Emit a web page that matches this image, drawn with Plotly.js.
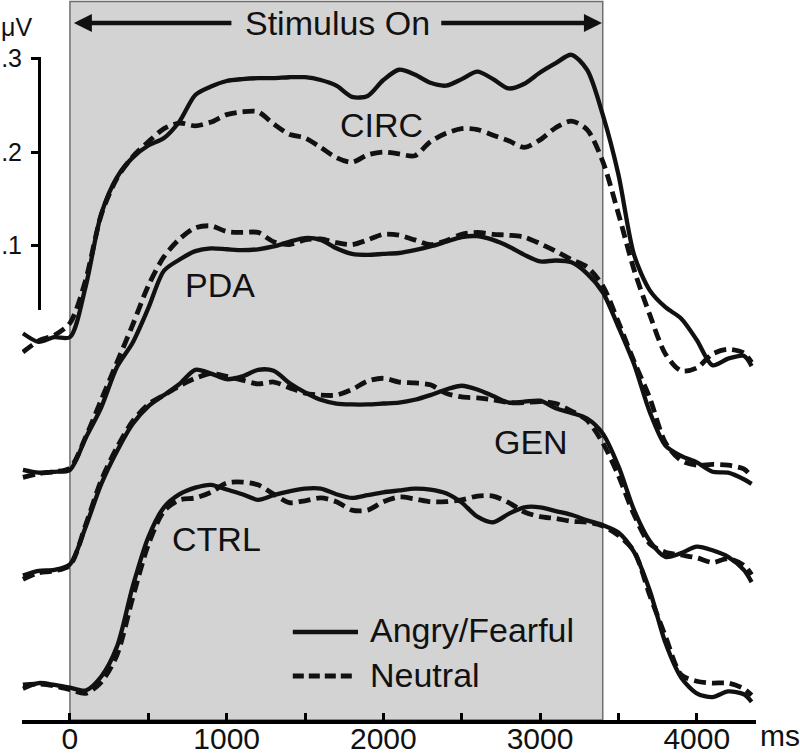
<!DOCTYPE html>
<html>
<head>
<meta charset="utf-8">
<script src="https://cdn.plot.ly/plotly-3.0.1.min.js"></script>
<style>
  html, body { margin: 0; padding: 0; background: #fff; }
</style>
</head>
<body>
<div id="chart" style="width:800px;height:754px"></div>
<script>
// time axis (ms), shared by all traces
const timeMs = [-300, -200, -100, 0, 100, 200, 300, 400, 500, 600, 700, 800, 900,
  1000, 1100, 1200, 1300, 1400, 1500, 1600, 1700, 1800, 1900, 2000, 2100, 2200,
  2300, 2400, 2500, 2600, 2700, 2800, 2900, 3000, 3100, 3200, 3300, 3400, 3500,
  3600, 3700, 3800, 3900, 4000, 4100, 4200, 4300, 4350];

// amplitude (uV) relative to each group's baseline
const circAngry = [0.006, -0.003, 0.002, 0.002, 0.056, 0.134, 0.173, 0.194, 0.207, 0.215,
  0.233, 0.261, 0.270, 0.276, 0.278, 0.279, 0.279, 0.280, 0.280, 0.277, 0.271, 0.259,
  0.260, 0.277, 0.288, 0.283, 0.274, 0.271, 0.278, 0.286, 0.278, 0.268, 0.273, 0.285,
  0.295, 0.304, 0.288, 0.240, 0.176, 0.090, 0.052, 0.034, 0.022, -0.001, -0.028,
  -0.021, -0.018, -0.029];
const circNeutral = [-0.014, -0.002, 0.004, 0.017, 0.063, 0.133, 0.172, 0.195, 0.211,
  0.225, 0.231, 0.228, 0.232, 0.240, 0.243, 0.243, 0.230, 0.219, 0.215, 0.205, 0.194,
  0.189, 0.197, 0.200, 0.198, 0.196, 0.211, 0.220, 0.225, 0.224, 0.218, 0.212, 0.205,
  0.213, 0.226, 0.233, 0.224, 0.190, 0.134, 0.074, 0.026, -0.016, -0.034, -0.031,
  -0.016, -0.011, -0.015, -0.025];

const pdaAngry = [0.000, -0.003, -0.002, 0.000, 0.034, 0.067, 0.110, 0.136, 0.173, 0.213,
  0.225, 0.234, 0.237, 0.236, 0.235, 0.236, 0.239, 0.244, 0.248, 0.246, 0.237, 0.231,
  0.230, 0.231, 0.232, 0.235, 0.239, 0.244, 0.249, 0.250, 0.246, 0.239, 0.230, 0.223,
  0.224, 0.222, 0.210, 0.190, 0.153, 0.113, 0.062, 0.026, 0.015, 0.008, -0.002,
  -0.003, -0.010, -0.015];
const pdaNeutral = [-0.008, -0.004, -0.002, 0.002, 0.035, 0.075, 0.115, 0.155, 0.197,
  0.228, 0.247, 0.259, 0.261, 0.255, 0.254, 0.254, 0.244, 0.241, 0.246, 0.247, 0.243,
  0.241, 0.246, 0.252, 0.251, 0.246, 0.241, 0.245, 0.252, 0.254, 0.252, 0.251, 0.249,
  0.242, 0.234, 0.225, 0.217, 0.197, 0.158, 0.116, 0.077, 0.029, 0.010, 0.005, 0.006,
  0.005, 0.001, -0.007];

const genAngry = [-0.013, -0.008, -0.007, -0.001, 0.039, 0.085, 0.120, 0.149, 0.168,
  0.180, 0.192, 0.207, 0.203, 0.197, 0.200, 0.207, 0.206, 0.193, 0.183, 0.175, 0.171,
  0.170, 0.170, 0.171, 0.172, 0.175, 0.180, 0.186, 0.190, 0.186, 0.179, 0.172, 0.173,
  0.174, 0.166, 0.161, 0.155, 0.139, 0.104, 0.057, 0.024, 0.007, 0.011, 0.018, 0.014,
  0.007, -0.007, -0.020];
const genNeutral = [-0.017, -0.010, -0.008, -0.002, 0.041, 0.089, 0.124, 0.152, 0.170,
  0.180, 0.190, 0.198, 0.203, 0.200, 0.196, 0.192, 0.194, 0.188, 0.182, 0.180, 0.180,
  0.186, 0.195, 0.198, 0.194, 0.193, 0.191, 0.182, 0.178, 0.177, 0.175, 0.172, 0.172,
  0.173, 0.171, 0.163, 0.153, 0.129, 0.094, 0.052, 0.021, 0.012, 0.009, 0.006, 0.001,
  0.005, -0.002, -0.012];

const ctrlAngry = [-0.004, 0.002, 0.000, -0.003, -0.006, 0.009, 0.041, 0.105, 0.158,
  0.190, 0.204, 0.211, 0.214, 0.209, 0.204, 0.198, 0.203, 0.207, 0.210, 0.210, 0.204,
  0.200, 0.203, 0.206, 0.208, 0.210, 0.209, 0.205, 0.195, 0.180, 0.174, 0.183, 0.190,
  0.190, 0.186, 0.182, 0.176, 0.171, 0.163, 0.142, 0.101, 0.045, 0.008, -0.009, -0.013,
  -0.007, -0.010, -0.018];
const ctrlNeutral = [0.000, 0.001, -0.001, -0.005, -0.009, 0.003, 0.032, 0.093, 0.150,
  0.186, 0.198, 0.200, 0.206, 0.216, 0.217, 0.214, 0.204, 0.195, 0.197, 0.200, 0.196,
  0.187, 0.187, 0.196, 0.201, 0.199, 0.196, 0.196, 0.198, 0.202, 0.202, 0.195, 0.185,
  0.180, 0.178, 0.175, 0.174, 0.170, 0.160, 0.143, 0.096, 0.052, 0.011, 0.004, 0.002,
  0.002, -0.004, -0.011];

// groups stacked top to bottom, each shifted by its offset (uV)
const groupNames = ['CIRC', 'PDA', 'GEN', 'CTRL'];
const groupOffsets = [0, -0.14, -0.24, -0.37];
const groupAngry = [circAngry, pdaAngry, genAngry, ctrlAngry];
const groupNeutral = [circNeutral, pdaNeutral, genNeutral, ctrlNeutral];

const stimulusEnd = 3400;
const xTicks = [0, 500, 1000, 1500, 2000, 2500, 3000, 3500, 4000];
const xTickText = ['0', '', '1000', '', '2000', '', '3000', '', '4000'];
const scaleTicks = [0.1, 0.2, 0.3];
const scaleTickText = ['.1', '.2', '.3'];

const FONT = 'Liberation Sans, Arial, Helvetica, sans-serif';
const INK = '#111111';

const traces = [];
groupNames.forEach((name, i) => {
  const shift = v => v + groupOffsets[i];
  traces.push({
    type: 'scatter', mode: 'lines', name: name + ' Neutral',
    x: timeMs, y: groupNeutral[i].map(shift),
    line: { color: INK, width: 4.8, dash: '12px,6px', shape: 'spline', smoothing: 0.8 },
    showlegend: false, hoverinfo: 'skip'
  });
  traces.push({
    type: 'scatter', mode: 'lines', name: name + ' Angry/Fearful',
    x: timeMs, y: groupAngry[i].map(shift),
    line: { color: INK, width: 4.3, shape: 'spline', smoothing: 0.8 },
    showlegend: false, hoverinfo: 'skip'
  });
});

// empty trace so the scale-bar axis gets drawn
traces.push({ type: 'scatter', x: [null], y: [null], yaxis: 'y2', showlegend: false, hoverinfo: 'skip' });

// group label placement (ms, uV)
const labelPos = {
  CIRC: [1985, 0.229],
  PDA: [957, 0.058],
  GEN: [2942, -0.110],
  CTRL: [938, -0.214]
};

const annotations = groupNames.map(name => ({
  x: labelPos[name][0], y: labelPos[name][1], xref: 'x', yref: 'y',
  text: name, showarrow: false, xanchor: 'center', yanchor: 'middle',
  font: { family: FONT, size: 34, color: INK }
}));

// "Stimulus On" with arrows to both edges of the stimulus window
annotations.push({
  x: 1710, y: 0.338, xref: 'x', yref: 'y', text: 'Stimulus On', showarrow: false,
  font: { family: FONT, size: 34, color: INK }
});
annotations.push({
  x: 25, y: 0.338, xref: 'x', yref: 'y', ax: 1040, ay: 0, axref: 'x', ayref: 'pixel',
  text: '', showarrow: true, arrowhead: 2, arrowsize: 0.8, arrowwidth: 4.5, arrowcolor: INK
});
annotations.push({
  x: stimulusEnd - 5, y: 0.338, xref: 'x', yref: 'y', ax: 2360, ay: 0, axref: 'x', ayref: 'pixel',
  text: '', showarrow: true, arrowhead: 2, arrowsize: 0.8, arrowwidth: 4.5, arrowcolor: INK
});

// legend text
annotations.push({
  x: 0.46, y: 0.125, xref: 'paper', yref: 'paper', text: 'Angry/Fearful', showarrow: false,
  xanchor: 'left', yanchor: 'middle', font: { family: FONT, size: 34, color: INK }
});
annotations.push({
  x: 0.46, y: 0.0625, xref: 'paper', yref: 'paper', text: 'Neutral', showarrow: false,
  xanchor: 'left', yanchor: 'middle', font: { family: FONT, size: 34, color: INK }
});

// units
annotations.push({
  x: 0.9475, y: -0.022, xref: 'paper', yref: 'paper', text: 'ms', showarrow: false,
  xanchor: 'left', yanchor: 'middle', font: { family: FONT, size: 30, color: INK }
});
annotations.push({
  x: 0.0425, y: 0.9625, xref: 'paper', yref: 'paper', text: 'μV', showarrow: false,
  xanchor: 'right', yanchor: 'middle', font: { family: FONT, size: 25, color: INK }
});

const shapes = [
  // stimulus window
  {
    type: 'rect', xref: 'x', yref: 'paper', x0: 0, x1: stimulusEnd, y0: 0, y1: 0.998,
    fillcolor: '#d3d3d3', line: { color: '#6e6e6e', width: 1.5 }, layer: 'below'
  },
  // legend samples
  {
    type: 'line', xref: 'paper', yref: 'paper', x0: 0.366, x1: 0.4475, y0: 0.1222, y1: 0.1222,
    line: { color: INK, width: 4.5 }
  },
  {
    type: 'line', xref: 'paper', yref: 'paper', x0: 0.366, x1: 0.441, y0: 0.0611, y1: 0.0611,
    line: { color: INK, width: 5, dash: '11px,5px' }
  }
];

const layout = {
  width: 800,
  height: 754,
  margin: { l: 0, r: 0, t: 0, b: 34, pad: 0 },
  paper_bgcolor: '#ffffff',
  plot_bgcolor: 'rgba(0,0,0,0)',
  showlegend: false,
  font: { family: FONT, color: INK },
  xaxis: {
    domain: [0.0275, 0.945],
    range: [-306, 4378],
    showgrid: false, zeroline: false,
    showline: true, linecolor: '#000', linewidth: 4,
    ticks: 'inside', ticklen: 7, tickwidth: 3, tickcolor: '#000',
    tickvals: xTicks, ticktext: xTickText,
    ticklabelstandoff: -11,
    tickfont: { family: FONT, size: 30, color: INK }
  },
  yaxis: {
    range: [-0.4075, 0.3626],
    visible: false, showgrid: false, zeroline: false
  },
  // scale bar drawn as a short free axis with the same uV scale
  yaxis2: {
    domain: [0.5694, 0.9207],
    range: [0.031, 0.3015],
    anchor: 'free', position: 0.04875, side: 'left',
    showgrid: false, zeroline: false,
    showline: true, linecolor: '#000', linewidth: 3,
    ticks: 'outside', ticklen: 7, tickwidth: 3, tickcolor: '#000',
    tickvals: scaleTicks, ticktext: scaleTickText,
    ticklabelstandoff: 4,
    tickfont: { family: FONT, size: 25, color: INK }
  },
  shapes: shapes,
  annotations: annotations
};

Plotly.newPlot('chart', traces, layout, { displayModeBar: false, staticPlot: true });
</script>
</body>
</html>
